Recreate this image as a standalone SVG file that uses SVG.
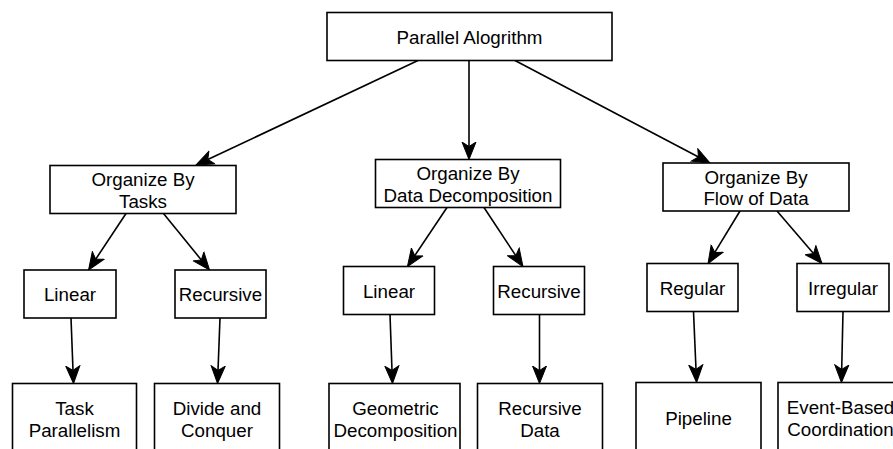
<svg xmlns="http://www.w3.org/2000/svg" width="893" height="449" viewBox="0 0 893 449">
  <style>
    .box { fill: #ffffff; stroke: #000000; stroke-width: 1.6; }
    .lbl { font-family: "Liberation Sans", Arial, sans-serif; font-size: 18.75px; fill: #000000; text-anchor: middle; }
    .edge { fill: none; stroke: #000000; stroke-width: 1.6; marker-end: url(#arrow); }
  </style>
  <defs>
    <marker id="arrow" markerUnits="userSpaceOnUse" viewBox="-18 -8 19 16" markerWidth="19" markerHeight="16" refX="-13" refY="0" orient="auto">
      <path d="M0,0 L-17.5,-7 L-13,0 L-17.5,7 Z" fill="#000000" stroke="#000000" stroke-width="1" stroke-linejoin="miter"/>
    </marker>
  </defs>

  <rect width="893" height="449" fill="#ffffff"/>

  <!-- connectors -->
  <g id="connectors">
    <path class="edge" d="M418,60.5 L207.8,159.5"/>
    <path class="edge" d="M469,60.5 L469,146.5"/>
    <path class="edge" d="M515,60.5 L698.5,157"/>
    <path class="edge" d="M126,213.5 L95.7,259.2"/>
    <path class="edge" d="M163.5,213.5 L201.3,259.9"/>
    <path class="edge" d="M447,207.5 L414.7,255.7"/>
    <path class="edge" d="M484,207.5 L515.8,255.7"/>
    <path class="edge" d="M740,211 L714.8,252.4"/>
    <path class="edge" d="M777,211 L813.5,253.6"/>
    <path class="edge" d="M71,318 L73,370.5"/>
    <path class="edge" d="M220,318 L218,370.5"/>
    <path class="edge" d="M390,314.5 L392,370.5"/>
    <path class="edge" d="M539.5,314.5 L539.5,370.5"/>
    <path class="edge" d="M693.5,311.5 L696,369.5"/>
    <path class="edge" d="M843,311.5 L841.7,369.5"/>
  </g>

  <!-- root -->
  <g id="parallel-algorithm">
    <rect class="box" x="327" y="12.5" width="285" height="48"/>
    <text class="lbl" x="469.5" y="43.5">Parallel Alogrithm</text>
  </g>

  <!-- second level -->
  <g id="by-tasks">
    <rect class="box" x="50" y="165.5" width="186" height="48"/>
    <text class="lbl" x="143" y="186.2">Organize By</text>
    <text class="lbl" x="143" y="207.8">Tasks</text>
  </g>
  <g id="by-data-decomposition">
    <rect class="box" x="375.5" y="159.5" width="185" height="48"/>
    <text class="lbl" x="468" y="180.2">Organize By</text>
    <text class="lbl" x="468" y="201.8">Data Decomposition</text>
  </g>
  <g id="by-flow-of-data">
    <rect class="box" x="663" y="163" width="186" height="48"/>
    <text class="lbl" x="756" y="183.7">Organize By</text>
    <text class="lbl" x="756" y="205.3">Flow of Data</text>
  </g>

  <!-- third level -->
  <g id="tasks-linear">
    <rect class="box" x="24" y="270" width="92" height="48"/>
    <text class="lbl" x="70" y="301">Linear</text>
  </g>
  <g id="tasks-recursive">
    <rect class="box" x="175" y="270" width="91" height="48"/>
    <text class="lbl" x="220.5" y="301">Recursive</text>
  </g>
  <g id="data-linear">
    <rect class="box" x="343.5" y="266.5" width="91" height="48"/>
    <text class="lbl" x="389" y="297.5">Linear</text>
  </g>
  <g id="data-recursive">
    <rect class="box" x="493.5" y="266.5" width="91" height="48"/>
    <text class="lbl" x="539" y="297.5">Recursive</text>
  </g>
  <g id="flow-regular">
    <rect class="box" x="647" y="263.5" width="91" height="48"/>
    <text class="lbl" x="692.5" y="294.5">Regular</text>
  </g>
  <g id="flow-irregular">
    <rect class="box" x="797" y="263.5" width="92" height="48"/>
    <text class="lbl" x="843" y="294.5">Irregular</text>
  </g>

  <!-- leaf patterns -->
  <g id="task-parallelism">
    <rect class="box" x="12.5" y="383.5" width="124" height="70"/>
    <text class="lbl" x="74.5" y="415.2">Task</text>
    <text class="lbl" x="74.5" y="436.8">Parallelism</text>
  </g>
  <g id="divide-and-conquer">
    <rect class="box" x="154.5" y="383.5" width="125" height="70"/>
    <text class="lbl" x="217" y="415.2">Divide and</text>
    <text class="lbl" x="217" y="436.8">Conquer</text>
  </g>
  <g id="geometric-decomposition">
    <rect class="box" x="329" y="383.5" width="131" height="70"/>
    <text class="lbl" x="395.5" y="415.2">Geometric</text>
    <text class="lbl" x="395.5" y="436.8">Decomposition</text>
  </g>
  <g id="recursive-data">
    <rect class="box" x="477.5" y="383.5" width="125" height="70"/>
    <text class="lbl" x="540" y="415.2">Recursive</text>
    <text class="lbl" x="540" y="436.8">Data</text>
  </g>
  <g id="pipeline">
    <rect class="box" x="636" y="382.5" width="125" height="70"/>
    <text class="lbl" x="698.5" y="424.5">Pipeline</text>
  </g>
  <g id="event-based-coordination">
    <rect class="box" x="778" y="382.5" width="125" height="70"/>
    <text class="lbl" x="840.5" y="414.2">Event-Based</text>
    <text class="lbl" x="840.5" y="435.8">Coordination</text>
  </g>
</svg>
